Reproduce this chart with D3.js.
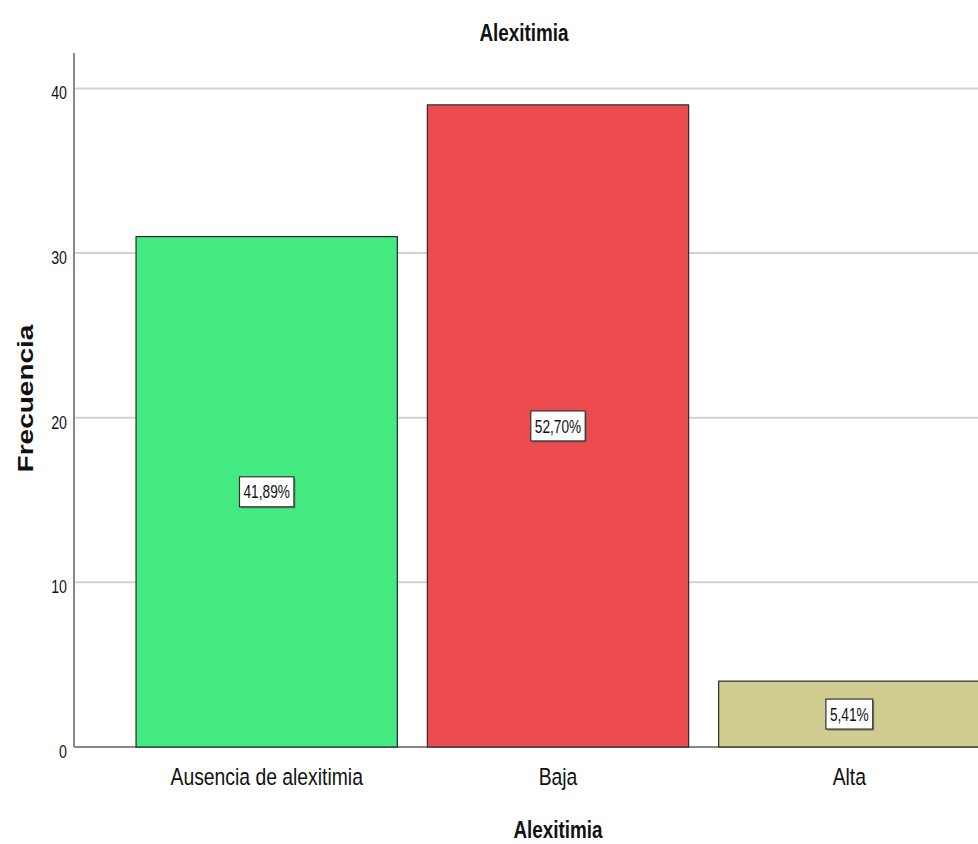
<!DOCTYPE html>
<html>
<head>
<meta charset="utf-8">
<script src="https://cdn.jsdelivr.net/npm/d3@7"></script>
<style>
  html, body { margin: 0; padding: 0; background: #fff; }
  svg { display: block; }
  text { font-family: "Liberation Sans", Arial, sans-serif; fill: #111; }
</style>
</head>
<body>
<svg id="chart" width="978" height="844"></svg>
<script>
const categories = ["Ausencia de alexitimia", "Baja", "Alta"];
const counts = [31, 39, 4];
const percentLabels = ["41,89%", "52,70%", "5,41%"];
const barColors = ["#43E981", "#EB4B4E", "#D1CC8F"];
const yTicks = [0, 10, 20, 30, 40];
const chartTitle = "Alexitimia";
const xTitle = "Alexitimia";
const yTitle = "Frecuencia";

const W = 978, H = 844;
const SX = 0.79; // horizontal squeeze of the original picture
const svg = d3.select("#chart");

const x = d3.scaleBand().domain(categories).range([74, 1042])
  .paddingInner(0.103).paddingOuter(0.213);
const y = d3.scaleLinear().domain([0, 42.15]).range([747, 53]);

// gridlines
svg.append("g").selectAll("line").data(yTicks.filter(d => d > 0)).join("line")
  .attr("x1", 74).attr("x2", W)
  .attr("y1", d => y(d)).attr("y2", d => y(d))
  .attr("stroke", "#d2d2d2").attr("stroke-width", 2);

// baseline
svg.append("line").attr("x1", 74).attr("x2", W).attr("y1", y(0)).attr("y2", y(0))
  .attr("stroke", "#888").attr("stroke-width", 2);

// bars
svg.append("g").selectAll("rect").data(categories).join("rect")
  .attr("x", d => x(d)).attr("width", x.bandwidth())
  .attr("y", (d, i) => y(counts[i])).attr("height", (d, i) => y(0) - y(counts[i]))
  .attr("fill", (d, i) => barColors[i])
  .attr("stroke", "#2a2a2a").attr("stroke-width", 1.2);

// y axis
const yAxis = d3.axisLeft(y).tickValues(yTicks).tickSize(0).tickPadding(0);
const ga = svg.append("g").attr("transform", "translate(74,0)").call(yAxis);
ga.select(".domain").remove();
ga.selectAll(".tick text")
  .attr("font-family", "Liberation Sans, Arial, sans-serif")
  .attr("font-size", 18).attr("fill", "#111")
  .attr("text-anchor", "end")
  .attr("x", -7 / SX).attr("dy", "0.35em").attr("y", 4)
  .attr("transform", `scale(${SX},1)`);
svg.append("line").attr("x1", 74).attr("x2", 74).attr("y1", 53).attr("y2", y(0))
  .attr("stroke", "#888").attr("stroke-width", 2);

// percentage labels
const PSX = 0.74;
const lab = svg.append("g").selectAll("g").data(categories).join("g")
  .attr("transform", (d, i) => `translate(${x(d) + x.bandwidth() / 2},${y(counts[i] / 2)})`);
lab.each(function (d, i) {
  const g = d3.select(this);
  const t = g.append("text").text(percentLabels[i])
    .attr("font-size", 18.5).attr("text-anchor", "middle").attr("dy", "0.36em")
    .attr("transform", `scale(${PSX},1)`).attr("fill", "#000");
  const tw = t.node().getComputedTextLength() * PSX;
  const bw = tw + 8, bh = 30;
  g.insert("rect", "text").attr("x", -bw / 2 + 1.5).attr("y", -bh / 2 + 1.5)
    .attr("width", bw).attr("height", bh).attr("fill", "#555").attr("opacity", 0.6);
  g.insert("rect", "text").attr("x", -bw / 2).attr("y", -bh / 2)
    .attr("width", bw).attr("height", bh).attr("fill", "#fff")
    .attr("stroke", "#333").attr("stroke-width", 1.2);
});

// category labels
svg.append("g").selectAll("text").data(categories).join("text")
  .text(d => d)
  .attr("transform", d => `translate(${x(d) + x.bandwidth() / 2},785) scale(${SX},1)`)
  .attr("text-anchor", "middle").attr("font-size", 24.5).attr("fill", "#222");

// titles
const TSX = 0.77;
svg.append("text").text(chartTitle)
  .attr("transform", `translate(524,41) scale(${TSX},1)`)
  .attr("text-anchor", "middle").attr("font-size", 24.5).attr("font-weight", "bold");
svg.append("text").text(xTitle)
  .attr("transform", `translate(558,838) scale(${TSX},1)`)
  .attr("text-anchor", "middle").attr("font-size", 24.5).attr("font-weight", "bold");
svg.append("text").text(yTitle)
  .attr("transform", `translate(33,398.5) scale(${SX},1) rotate(-90)`)
  .attr("text-anchor", "middle").attr("font-size", 28).attr("font-weight", "bold");
</script>
</body>
</html>
